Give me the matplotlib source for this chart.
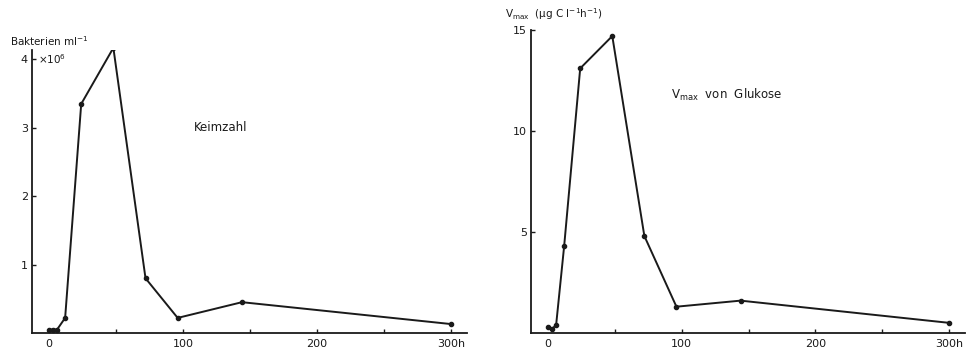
import matplotlib.pyplot as plt

# Zeitpunkte (h)
zeit = [0, 3, 6, 12, 24, 48, 72, 96, 144, 300]
# Keimzahl (x10^6 Bakterien ml^-1)
keimzahl = [0.05, 0.05, 0.05, 0.22, 3.35, 4.17, 0.8, 0.22, 0.45, 0.13]
# Vmax von Glukose (ug C l^-1 h^-1)
vmax = [0.3, 0.2, 0.4, 4.3, 13.1, 14.7, 4.8, 1.3, 1.6, 0.5]

x_ticks = [0, 50, 100, 150, 200, 250, 300]
x_labels = ["0", "", "100", "", "200", "", "300h"]

plt.rcParams['font.family'] = ['DejaVu Sans']
plt.rcParams['mathtext.default'] = 'regular'
fig = plt.figure(figsize=(9.71, 3.49), dpi=100)
ink = '#1a1a1a'


def style(ax, yticks):
    ax.spines['top'].set_visible(False)
    ax.spines['right'].set_visible(False)
    for s in ('left', 'bottom'):
        ax.spines[s].set_linewidth(1.3)
        ax.spines[s].set_color(ink)
    ax.set_xlim(-12.7, 312)
    ax.set_xticks(x_ticks)
    ax.set_xticklabels(x_labels)
    ax.set_yticks(yticks)
    ax.tick_params(axis='both', direction='in', length=3, width=1,
                   labelsize=8, colors=ink, pad=3)
    ax.tick_params(axis='x', pad=4)
    ax.xaxis.get_major_ticks()[0].tick1line.set_visible(False)


# linkes Diagramm: Keimzahl
ax1 = fig.add_axes([0.033, 0.046, 0.448, 0.811])
ax1.plot(zeit, keimzahl, color=ink, lw=1.4, marker='o', ms=3)
ax1.set_ylim(0, 4.14)
style(ax1, [1, 2, 3, 4])
ax1.text(-0.05, 1.005, r"Bakterien ml$^{-1}$", transform=ax1.transAxes,
         fontsize=7.5, color=ink, va='bottom')
ax1.text(-8, 4.0, r"$\times$10$^6$", fontsize=7.5, color=ink, va='center')
ax1.text(108, 3.0, "Keimzahl", fontsize=8.5, color=ink, va='center')

# rechtes Diagramm: Vmax von Glukose
ax2 = fig.add_axes([0.547, 0.046, 0.447, 0.868])
ax2.plot(zeit, vmax, color=ink, lw=1.4, marker='o', ms=3)
ax2.set_ylim(0, 15)
style(ax2, [5, 10, 15])
ax2.text(-0.06, 1.025, r"V$_{max}$  ($\mu$g C l$^{-1}$h$^{-1}$)",
         transform=ax2.transAxes, fontsize=7.5, color=ink, va='bottom')
ax2.text(92, 11.8, r"V$_{max}$  von  Glukose", fontsize=8.5, color=ink,
         va='center')

plt.savefig("out.png", dpi=100)
